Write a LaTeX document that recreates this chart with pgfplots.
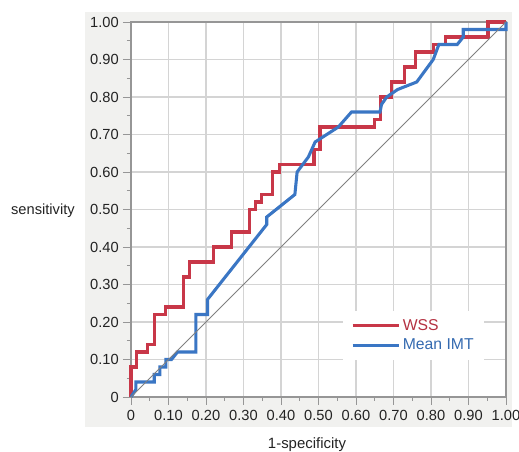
\documentclass[border=0pt]{standalone}
\usepackage{fontspec}
\setmainfont{Liberation Sans}
\usepackage{pgfplots}
\pgfplotsset{compat=1.18}
\definecolor{wssred}{RGB}{200,55,72}
\definecolor{imtblue}{RGB}{58,118,196}
\definecolor{panel}{RGB}{241,241,239}
\definecolor{gridc}{RGB}{212,212,212}
\definecolor{axisc}{RGB}{150,150,150}
\definecolor{diagc}{RGB}{128,128,128}
\definecolor{txt}{RGB}{35,35,35}

\begin{document}
\begin{tikzpicture}
\useasboundingbox (0,0) rectangle (389.25pt,339pt);
\fill[panel] (63.75pt,18.75pt) rectangle (384pt,330pt);
\begin{axis}[
  at={(98.25pt,41.25pt)}, anchor=south west,
  scale only axis, width=281.25pt, height=281.25pt,
  xmin=0, xmax=1, ymin=0, ymax=1,
  axis background/.style={fill=white},
  axis line style={axisc, line width=0.8pt},
  xtick={0,0.1,0.2,0.3,0.4,0.5,0.6,0.7,0.8,0.9,1},
  ytick={0,0.1,0.2,0.3,0.4,0.5,0.6,0.7,0.8,0.9,1},
  xticklabels={0,0.10,0.20,0.30,0.40,0.50,0.60,0.70,0.80,0.90,1.00},
  yticklabels={0,0.10,0.20,0.30,0.40,0.50,0.60,0.70,0.80,0.90,1.00},
  minor x tick num=1, minor y tick num=1,
  tick align=outside, tick pos=left,
  major tick length=6pt, minor tick length=3pt,
  every tick/.style={axisc, line width=0.7pt},
  grid=major, grid style={gridc, line width=1pt},
  tick label style={font=\fontsize{11pt}{13pt}\selectfont, text=txt, inner sep=0pt},
  xticklabel style={anchor=north, yshift=-3.5pt},
  yticklabel style={anchor=east, xshift=-3pt},
  legend style={at={(axis cs:0.565,0.099)}, anchor=south west, draw=none, fill=white,
    font=\fontsize{11.8pt}{13pt}\selectfont, inner xsep=6pt, inner ysep=4pt,
    row sep=1pt, legend cell align=left},
  legend image code/.code={\draw[#1] (0pt,0pt) -- (34.5pt,0pt);},
  clip=false,
]
\addplot[wssred, line width=2.3pt] coordinates {
  (0,0) (0,0.08) (0.014,0.08) (0.014,0.12) (0.045,0.12) (0.045,0.14)
  (0.062,0.14) (0.062,0.22) (0.093,0.22) (0.093,0.24) (0.14,0.24) (0.14,0.32)
  (0.157,0.32) (0.157,0.36) (0.221,0.36) (0.221,0.40) (0.268,0.40) (0.268,0.44)
  (0.315,0.44) (0.315,0.50) (0.333,0.50) (0.333,0.52) (0.348,0.52) (0.348,0.54)
  (0.378,0.54) (0.378,0.60) (0.397,0.60) (0.397,0.62) (0.488,0.62) (0.488,0.66)
  (0.504,0.66) (0.504,0.72) (0.649,0.72) (0.649,0.74) (0.666,0.74) (0.666,0.80)
  (0.695,0.80) (0.695,0.84) (0.73,0.84) (0.73,0.88) (0.758,0.88) (0.758,0.92)
  (0.807,0.92) (0.807,0.94) (0.838,0.94) (0.838,0.96) (0.952,0.96) (0.952,1.0)
  (1,1)
};
\addlegendentry{\textcolor{wssred!90!black}{WSS}}
\addplot[imtblue, line width=2.3pt] coordinates {
  (0,0) (0.013,0.02) (0.013,0.04) (0.062,0.04) (0.062,0.06) (0.077,0.06)
  (0.077,0.08) (0.093,0.08) (0.093,0.10) (0.108,0.10) (0.124,0.12) (0.173,0.12)
  (0.173,0.22) (0.204,0.22) (0.204,0.26) (0.362,0.46) (0.362,0.48) (0.437,0.54)
  (0.443,0.60) (0.473,0.64) (0.491,0.68) (0.553,0.72) (0.588,0.76) (0.664,0.76)
  (0.668,0.78) (0.682,0.80) (0.711,0.82) (0.762,0.84) (0.806,0.90) (0.821,0.94)
  (0.87,0.94) (0.886,0.96) (0.886,0.98) (1.0,0.98) (1.0,1.0)
};
\addlegendentry{\textcolor{imtblue!90!black}{Mean IMT}}
\addplot[diagc, line width=0.7pt, forget plot] coordinates {(0,0) (1,1)};
\end{axis}
\node[anchor=base east, font=\fontsize{11pt}{13pt}\selectfont, text=txt, inner sep=0pt]
  at (56.25pt,178pt) {sensitivity};
\node[anchor=base, font=\fontsize{11.2pt}{13pt}\selectfont, text=txt, inner sep=0pt]
  at (230.25pt,2.4pt) {1-specificity};
\end{tikzpicture}
\end{document}
